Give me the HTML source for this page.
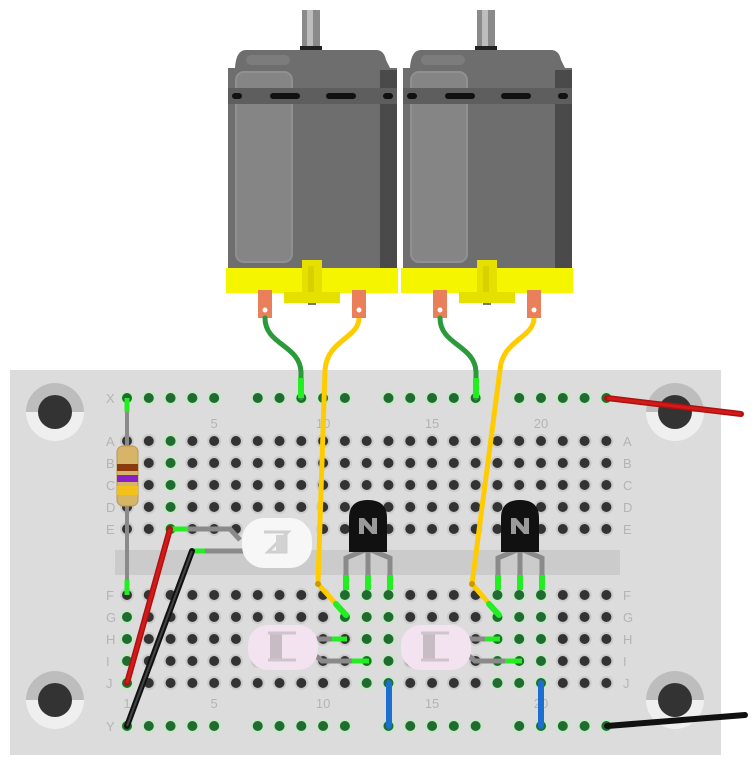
<!DOCTYPE html>
<html><head><meta charset="utf-8"><style>
html,body{margin:0;padding:0;background:#fff;width:756px;height:761px;overflow:hidden}
svg{display:block}
text{font-family:"Liberation Sans",sans-serif;fill:#b4b4b4;font-size:13px}
</style></head><body>
<svg id="s" width="756" height="761" viewBox="0 0 756 761" xmlns="http://www.w3.org/2000/svg">
<rect x="10" y="370" width="711" height="385" fill="#dcdcdc"/>
<rect x="115" y="550" width="505" height="25" fill="#cbcbcb"/>
<g id="mh"></g>
<g id="holes"></g>
<g id="labels"></g>
<g id="parts"></g>
</svg>
<script>
const NS="http://www.w3.org/2000/svg";
function el(parent,tag,attrs,txt){const e=document.createElementNS(NS,tag);for(const k in attrs)e.setAttribute(k,attrs[k]);if(txt!==undefined)e.textContent=txt;document.getElementById(parent).appendChild(e);return e;}
const cx=c=>127+(c-1)*21.79;
const rowsTop=[441,463,485,507,529],rowsBot=[595,617,639,661,683];
const letters="ABCDEFGHIJ";
// mounting holes
[[55,412],[55,700],[675,412],[675,700]].forEach(([x,y])=>{
 el("mh","circle",{cx:x,cy:y,r:29,fill:"#efefef"});
 el("mh","path",{d:`M${x-29} ${y} A29 29 0 0 1 ${x+29} ${y} Z`,fill:"#bdbdbd"});
 el("mh","circle",{cx:x,cy:y,r:17,fill:"#333"});
});
const green=new Set();
for(let r=0;r<5;r++){green.add("3,"+r);}
[[1,[6,7,8,9]],[11,[5,6]],[12,[5,6,7,8,9]],[13,[5,6,7,8,9]],[18,[5,6,7,8,9]],[19,[5,6,7,8,9]],[20,[5,6,7,8,9]]].forEach(([c,rs])=>rs.forEach(r=>green.add(c+","+r)));
function hole(x,y,g){
 el("holes","circle",{cx:x,cy:y,r:7,fill:g?"#c6e8c6":"#cbcbcb"});
 el("holes","circle",{cx:x,cy:y,r:5,fill:g?"#1f6b30":"#333"});
}
for(let c=1;c<=23;c++){
 rowsTop.forEach((y,r)=>hole(cx(c),y,green.has(c+","+r)));
 rowsBot.forEach((y,r)=>hole(cx(c),y,green.has(c+","+(r+5))));
 if(c%6!==0){hole(cx(c),398,true);hole(cx(c),726,true);}
}
for(let i=0;i<10;i++){const y=(i<5?rowsTop[i]:rowsBot[i-5])+5;
 el("labels","text",{x:106,y:y},letters[i]);el("labels","text",{x:623,y:y},letters[i]);}
el("labels","text",{x:106,y:403},"X");el("labels","text",{x:106,y:731},"Y");
[[1,"1"],[5,"5"],[10,"10"],[15,"15"],[20,"20"]].forEach(([c,t])=>{
 if(c>1)el("labels","text",{x:cx(c),y:428,"text-anchor":"middle"},t);
 el("labels","text",{x:cx(c),y:708,"text-anchor":"middle"},t);});
</script>
<svg width="756" height="761" viewBox="0 0 756 761" style="position:absolute;left:0;top:0" xmlns="http://www.w3.org/2000/svg">
<defs>
<g id="motor">
 <rect x="302" y="10" width="18" height="42" fill="#8a8a8a"/>
 <rect x="307" y="10" width="6" height="40" fill="#bdbdbd"/>
 <rect x="300" y="46" width="22" height="6" fill="#222"/>
 <path d="M240 50 H376 Q384 50 386 60 L390 68 H397 V268 H228 V68 H235 Q236 50 246 50 Z" fill="#6e6e6e"/>
 <rect x="380" y="70" width="17" height="198" fill="#4a4a4a"/>
 <rect x="246" y="55" width="44" height="10" rx="5" fill="#7c7c7c"/>
 <rect x="236" y="72" width="56" height="190" rx="8" fill="#858585" stroke="#909090" stroke-width="2"/>
 <rect x="228" y="88" width="169" height="16" fill="#5e5e5e"/>
 <rect x="232" y="93" width="10" height="6" rx="3" fill="#111"/>
 <rect x="270" y="93" width="30" height="6" rx="3" fill="#111"/>
 <rect x="326" y="93" width="30" height="6" rx="3" fill="#111"/>
 <rect x="383" y="93" width="10" height="6" rx="3" fill="#111"/>
 <rect x="226" y="268" width="172" height="25" fill="#f5f500"/>
 <rect x="284" y="292" width="56" height="11" fill="#e5e000"/>
 <rect x="302" y="260" width="20" height="33" fill="#e5e000"/>
 <rect x="308" y="266" width="6" height="26" fill="#d8d000"/>
 <rect x="308" y="303" width="8" height="2" fill="#777"/>
 <rect x="258" y="290" width="14" height="28" fill="#e9805a"/>
 <circle cx="265" cy="310" r="2.5" fill="#fff"/>
 <rect x="352" y="290" width="14" height="28" fill="#e9805a"/>
 <circle cx="359" cy="310" r="2.5" fill="#fff"/>
</g>
<g id="trans">
 <path d="M-3 42 V50 L-22 58 V90 M0 42 V90 M3 42 V50 L22 58 V90" fill="none" stroke="#8a8a8a" stroke-width="5"/>
 <path d="M-22 75 V90 M0 75 V90 M22 75 V90" stroke="#22ee22" stroke-width="6"/>
 <path d="M-19 52 V18 Q-19 0 0 0 Q19 0 19 18 V52 Z" fill="#111"/>
 <path d="M-9 18 V34 H-4 V25 L4 34 H9 V18 H4 V27 L-4 18 Z" fill="#9a9a9a"/>
</g>
</defs>
<use href="#motor"/>
<use href="#motor" x="175"/>
<!-- resistor -->
<line x1="127" y1="398" x2="127" y2="595" stroke="#8a8a8a" stroke-width="4"/>
<line x1="127" y1="398" x2="127" y2="412" stroke="#22ee22" stroke-width="5"/>
<line x1="127" y1="580" x2="127" y2="595" stroke="#22ee22" stroke-width="5"/>
<rect x="117" y="446" width="21" height="60" rx="6" fill="#d6b46a" stroke="#b8964a"/>
<rect x="117" y="464" width="21" height="7" fill="#8b3a0e"/>
<rect x="117" y="475" width="21" height="7" fill="#8b1fc8"/>
<rect x="117" y="486" width="21" height="9" fill="#f2c21a"/>
<!-- white LED -->
<path d="M170 529 H230 L240 540" fill="none" stroke="#8a8a8a" stroke-width="5"/>
<path d="M192 551 H245" fill="none" stroke="#8a8a8a" stroke-width="5"/>
<path d="M172 529 H188 M194 551 H205" stroke="#22ee22" stroke-width="5"/>
<rect x="242" y="518" width="70" height="50" rx="22" fill="#f7f7f7"/>
<path d="M264 532 H288 L268 552 H286 V532" fill="none" stroke="#cfcfcf" stroke-width="3"/>
<rect x="276" y="535" width="10" height="17" fill="#d2d2d2"/>
<!-- transistors -->
<use href="#trans" x="368" y="500"/>
<use href="#trans" x="520" y="500"/>
<!-- pink LEDs -->
<g id="pl">
<path d="M315 639 H345 M315 655 L322 661 H367" fill="none" stroke="#8a8a8a" stroke-width="5"/>
<path d="M332 639 H347 M352 661 H369" stroke="#22ee22" stroke-width="5"/>
<rect x="248" y="625" width="70" height="45" rx="20" fill="#f3e3f0"/>
<rect x="270" y="633" width="12" height="26" fill="#c8bcc4"/>
<path d="M268 633 H296 M268 660 H296" stroke="#d0c4cc" stroke-width="3"/>
</g>
<use href="#pl" x="153"/>
<!-- wires -->
<path d="M265 318 C265 345 300 345 301 372 L301 398" fill="none" stroke="#2a9a3a" stroke-width="5" stroke-linecap="round"/>
<path d="M301 378 V398" stroke="#22ee22" stroke-width="6"/>
<path d="M440 318 C440 345 475 345 476 372 L476 398" fill="none" stroke="#2a9a3a" stroke-width="5" stroke-linecap="round"/>
<path d="M476 378 V398" stroke="#22ee22" stroke-width="6"/>
<path d="M359 318 C359 338 327 340 325 370 L318 584 L346 615" fill="none" stroke="#ffcc00" stroke-width="5" stroke-linejoin="round"/>
<path d="M336 604 L346 615" stroke="#22ee22" stroke-width="6" stroke-linecap="round"/>
<circle cx="318" cy="584" r="3" fill="#c89a00"/>
<path d="M534 318 C534 338 502 340 500 370 L472 584 L499 615" fill="none" stroke="#ffcc00" stroke-width="5" stroke-linejoin="round"/>
<path d="M489 604 L499 615" stroke="#22ee22" stroke-width="6" stroke-linecap="round"/>
<circle cx="472" cy="584" r="3" fill="#c89a00"/>
<line x1="170" y1="529" x2="127" y2="683" stroke="#b01010" stroke-width="6" stroke-linecap="round"/>
<line x1="170" y1="529" x2="127" y2="683" stroke="#d11a1a" stroke-width="3"/>
<line x1="192" y1="551" x2="127" y2="726" stroke="#111" stroke-width="6" stroke-linecap="round"/>
<line x1="192" y1="551" x2="127" y2="726" stroke="#444" stroke-width="2"/>
<line x1="607" y1="398" x2="741" y2="414" stroke="#b01010" stroke-width="6" stroke-linecap="round"/>
<line x1="607" y1="398" x2="741" y2="414" stroke="#d11a1a" stroke-width="3"/>
<line x1="607" y1="726" x2="745" y2="715" stroke="#111" stroke-width="6" stroke-linecap="round"/>
<line x1="389" y1="683" x2="389" y2="726" stroke="#1c6fcf" stroke-width="6" stroke-linecap="round"/>
<line x1="541" y1="683" x2="541" y2="726" stroke="#1c6fcf" stroke-width="6" stroke-linecap="round"/>
</svg>
</body></html>
